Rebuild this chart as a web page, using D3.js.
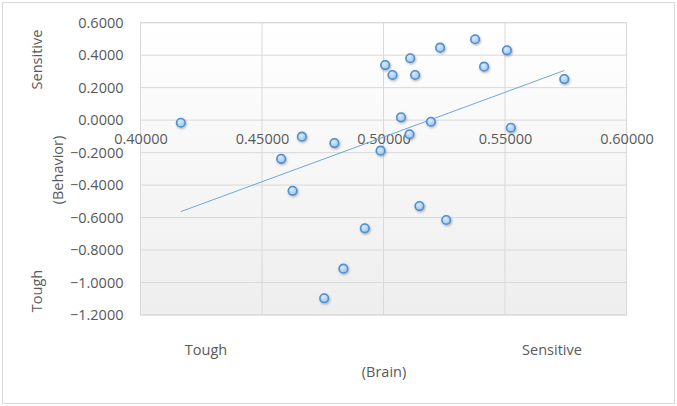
<!DOCTYPE html>
<meta charset="utf-8">
<style>
body { margin: 0; background: #fff; }
text { font-family: "Open Sans", sans-serif; fill: #595959; }
.tick line { display: none; }
.domain { display: none; }
</style>
<svg width="677" height="406"></svg>
<script src="https://cdn.jsdelivr.net/npm/d3@7"></script>
<script>

// brain score (x) vs behaviour score (y)
var brain = [0.4166, 0.4664, 0.4579, 0.4626, 0.4798, 0.5007, 0.5037, 0.5110,
             0.5130, 0.5233, 0.5377, 0.5414, 0.5508, 0.5744, 0.5072, 0.5195,
             0.5107, 0.5524, 0.4988, 0.5148, 0.5258, 0.4923, 0.4835, 0.4756];
var behavior = [-0.016, -0.102, -0.238, -0.435, -0.141, 0.339, 0.278, 0.381,
                0.278, 0.446, 0.498, 0.329, 0.430, 0.253, 0.017, -0.010,
                -0.087, -0.047, -0.188, -0.529, -0.615, -0.666, -0.915, -1.097];

var xTicks = [0.40, 0.45, 0.50, 0.55, 0.60];
var yTicks = [0.6, 0.4, 0.2, 0.0, -0.2, -0.4, -0.6, -0.8, -1.0, -1.2];

var svg = d3.select("svg"),
    width = +svg.attr("width"),
    height = +svg.attr("height");

var plotL = 140.5, plotR = 626.5, plotT = 22.7, plotB = 315;

var x = d3.scaleLinear().domain([0.4, 0.6]).range([plotL, plotR]);
var y = d3.scaleLinear().domain([-1.2, 0.6]).range([plotB, plotT]);

var defs = svg.append("defs");
var bg = defs.append("linearGradient").attr("id", "bg")
    .attr("x1", 0).attr("y1", 0).attr("x2", 0).attr("y2", 1);
bg.append("stop").attr("offset", "0%").attr("stop-color", "#ffffff");
bg.append("stop").attr("offset", "100%").attr("stop-color", "#eeeeee");

var dot = defs.append("radialGradient").attr("id", "dot")
    .attr("cx", "40%").attr("cy", "35%").attr("r", "65%");
dot.append("stop").attr("offset", "0%").attr("stop-color", "#dcebfa");
dot.append("stop").attr("offset", "100%").attr("stop-color", "#9cc3ea");

var shadow = defs.append("filter").attr("id", "shadow")
    .attr("x", "-50%").attr("y", "-50%").attr("width", "200%").attr("height", "200%");
shadow.append("feDropShadow").attr("dx", 0.8).attr("dy", 1.2)
    .attr("stdDeviation", 0.9).attr("flood-color", "#000").attr("flood-opacity", 0.3);

// chart border
svg.append("rect")
    .attr("x", 2.5).attr("y", 2.5)
    .attr("width", width - 5).attr("height", height - 5)
    .attr("fill", "#fff").attr("stroke", "#d9d9d9");

// plot area
svg.append("rect")
    .attr("x", plotL).attr("y", plotT)
    .attr("width", plotR - plotL).attr("height", plotB - plotT)
    .attr("fill", "url(#bg)").attr("stroke", "#d9d9d9");

svg.selectAll(".hgrid")
    .data(yTicks)
    .enter().append("line")
    .attr("class", "hgrid")
    .attr("x1", plotL).attr("x2", plotR)
    .attr("y1", function(d) { return y(d); })
    .attr("y2", function(d) { return y(d); })
    .attr("stroke", "#d9d9d9");

svg.selectAll(".vgrid")
    .data(xTicks)
    .enter().append("line")
    .attr("class", "vgrid")
    .attr("x1", function(d) { return x(d); })
    .attr("x2", function(d) { return x(d); })
    .attr("y1", plotT).attr("y2", plotB)
    .attr("stroke", "#d9d9d9");

// axes
svg.append("g")
    .attr("transform", "translate(" + (plotL - 14) + ",0)")
    .call(d3.axisLeft(y).tickValues(yTicks).tickFormat(d3.format(".4f")).tickSize(0));

svg.append("g")
    .attr("transform", "translate(0," + y(0) + ")")
    .call(d3.axisBottom(x).tickValues(xTicks).tickFormat(d3.format(".5f")).tickSize(0).tickPadding(14));

svg.selectAll(".tick text")
    .style("font-size", "14.5px")
    .style("font-family", "'Open Sans', sans-serif")
    .attr("fill", "#595959");

// trend line (least squares)
var pts = brain.map(function(d, i) { return [d, behavior[i]]; });
var mx = d3.mean(brain), my = d3.mean(behavior);
var sxy = d3.sum(pts, function(p) { return (p[0] - mx) * (p[1] - my); });
var sxx = d3.sum(pts, function(p) { return (p[0] - mx) * (p[0] - mx); });
var slope = sxy / sxx, icpt = my - slope * mx;
var ext = d3.extent(brain);

svg.append("line")
    .attr("x1", x(ext[0])).attr("y1", y(slope * ext[0] + icpt))
    .attr("x2", x(ext[1])).attr("y2", y(slope * ext[1] + icpt))
    .attr("stroke", "#6fa6dc").attr("stroke-width", 1);

svg.selectAll(".pt")
    .data(pts)
    .enter().append("circle")
    .attr("class", "pt")
    .attr("cx", function(d) { return x(d[0]); })
    .attr("cy", function(d) { return y(d[1]); })
    .attr("r", 4.3)
    .attr("fill", "url(#dot)")
    .attr("stroke", "#4f8fd0")
    .attr("stroke-width", 1.6)
    .attr("filter", "url(#shadow)");

// axis titles
function label(txt, cx, cy, rot) {
    svg.append("text")
        .attr("transform", "translate(" + cx + "," + cy + ")" + (rot ? " rotate(-90)" : ""))
        .attr("text-anchor", "middle")
        .attr("dy", "0.35em")
        .style("font-size", "14.5px")
        .text(txt);
}
label("Sensitive", 37, 59.5, true);
label("(Behavior)", 58, 170, true);
label("Tough", 37, 291, true);
label("Tough", 206, 350, false);
label("Sensitive", 552, 350, false);
label("(Brain)", 384, 372, false);

</script>
